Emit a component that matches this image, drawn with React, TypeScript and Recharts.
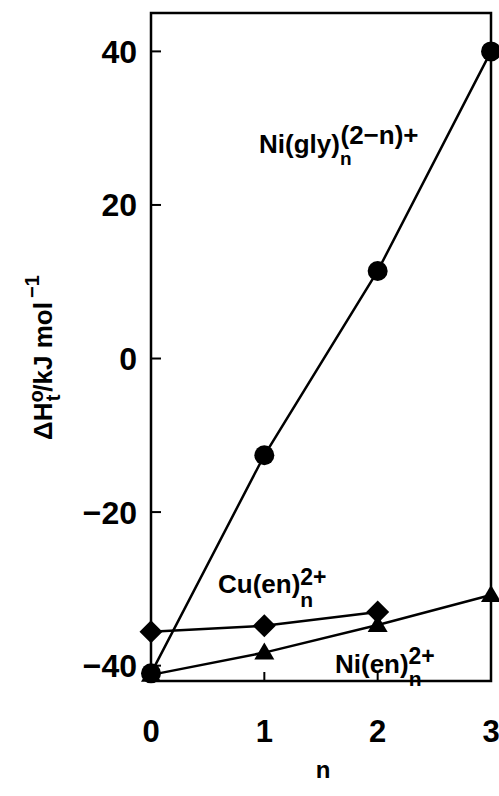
import React from "react";
import { LineChart, Line, XAxis, YAxis, ReferenceArea } from "recharts";

const nValues = [0, 1, 2, 3];
const niGly = [-41, -12.6, 11.4, 40];
const cuEn = [-35.6, -34.8, -33.0];
const niEn = [-41.2, -38.3, -34.7, -30.8];
const yTicks = [40, 20, 0, -20, -40];
const xTicks = [0, 1, 2, 3];

const data = nValues.map((n, i) => ({
  n,
  niGly: niGly[i],
  cuEn: cuEn[i] ?? null,
  niEn: niEn[i],
}));

const FONT = "'Liberation Sans', Arial, sans-serif";
const W = 499;
const H = 796;

function fmt(v: number) {
  return v < 0 ? "\u2212" + Math.abs(v) : String(v);
}

function YTick({ x, y, payload }: any) {
  return (
    <g>
      <line x1={x} x2={x + 10} y1={y} y2={y} stroke="#000" strokeWidth={2} />
      <text x={x - 14} y={y} dy="0.36em" textAnchor="end" fontSize={32} fontWeight="bold" fontFamily={FONT} fill="#000">
        {fmt(payload.value)}
      </text>
    </g>
  );
}

function XTick({ x, y, payload }: any) {
  const inner = payload.value !== 0 && payload.value !== 3;
  return (
    <g>
      {inner && <line x1={x} x2={x} y1={y} y2={y - 9} stroke="#000" strokeWidth={2} />}
      <text x={x} y={y + 61} textAnchor="middle" fontSize={31} fontWeight="bold" fontFamily={FONT} fill="#000">
        {payload.value}
      </text>
    </g>
  );
}

const circleDot = (p: any) =>
  p.cy == null ? <g key={p.index} /> : <circle key={p.index} cx={p.cx} cy={p.cy} r={10} fill="#000" />;

const diamondDot = (p: any) => {
  if (p.cy == null) return <g key={p.index} />;
  const s = 11.5;
  return (
    <polygon
      key={p.index}
      points={`${p.cx},${p.cy - s} ${p.cx + s},${p.cy} ${p.cx},${p.cy + s} ${p.cx - s},${p.cy}`}
      fill="#000"
    />
  );
};

const triangleDot = (p: any) => {
  if (p.cy == null) return <g key={p.index} />;
  return (
    <polygon
      key={p.index}
      points={`${p.cx},${p.cy - 10} ${p.cx + 10},${p.cy + 7} ${p.cx - 10},${p.cy + 7}`}
      fill="#000"
    />
  );
};

export default function App() {
  return (
    <div style={{ position: "absolute", left: 0, top: 0, width: W, height: H, background: "#fff" }}>
      <LineChart width={W} height={H} data={data} margin={{ top: 13, right: 8, bottom: 0, left: 0 }}>
        <XAxis
          dataKey="n"
          type="number"
          domain={[0, 3]}
          ticks={xTicks}
          axisLine={false}
          tickLine={false}
          tickSize={0}
          tickMargin={0}
          height={115}
          tick={<XTick />}
          interval={0}
        />
        <YAxis
          type="number"
          domain={[-42, 45]}
          ticks={yTicks}
          axisLine={false}
          tickLine={false}
          tickSize={0}
          tickMargin={0}
          width={151}
          tick={<YTick />}
          interval={0}
        />
        <ReferenceArea x1={0} x2={3} y1={-42} y2={45} fill="none" stroke="#000" strokeWidth={2.5} fillOpacity={0} />
        <Line dataKey="cuEn" stroke="#000" strokeWidth={2.5} dot={diamondDot} isAnimationActive={false} connectNulls={false} />
        <Line dataKey="niEn" stroke="#000" strokeWidth={2.5} dot={triangleDot} isAnimationActive={false} />
        <Line dataKey="niGly" stroke="#000" strokeWidth={2.5} dot={circleDot} isAnimationActive={false} />
      </LineChart>
      <svg width={W} height={H} style={{ position: "absolute", left: 0, top: 0, pointerEvents: "none" }} fontFamily={FONT} fontWeight="bold" fill="#000">
        <text x={52} y={440} fontSize={26} transform="rotate(-90 52 440)">
          <tspan>ΔH</tspan>
          <tspan fontSize={20} dy={-9}>o</tspan>
          <tspan fontSize={20} dx={-11} dy={17}>t</tspan>
          <tspan dy={-8} dx={3}>/kJ mol</tspan>
          <tspan fontSize={20} dy={-13} dx={4}>−1</tspan>
        </text>
        <text x={323} y={778} fontSize={24} textAnchor="middle">n</text>
        <text x={259} y={153} fontSize={26}>
          <tspan>Ni(gly)</tspan>
          <tspan fontSize={19} dy={12}>n</tspan>
          <tspan dx={-11} dy={-21}>(2−n)+</tspan>
        </text>
        <text x={218} y={593} fontSize={26}>
          <tspan>Cu(en)</tspan>
          <tspan fontSize={21} dy={14}>n</tspan>
          <tspan fontSize={23} dx={-13} dy={-22}>2+</tspan>
        </text>
        <text x={335} y={673} fontSize={26}>
          <tspan>Ni(en)</tspan>
          <tspan fontSize={21} dy={13}>n</tspan>
          <tspan fontSize={23} dx={-13} dy={-22}>2+</tspan>
        </text>
      </svg>
    </div>
  );
}
